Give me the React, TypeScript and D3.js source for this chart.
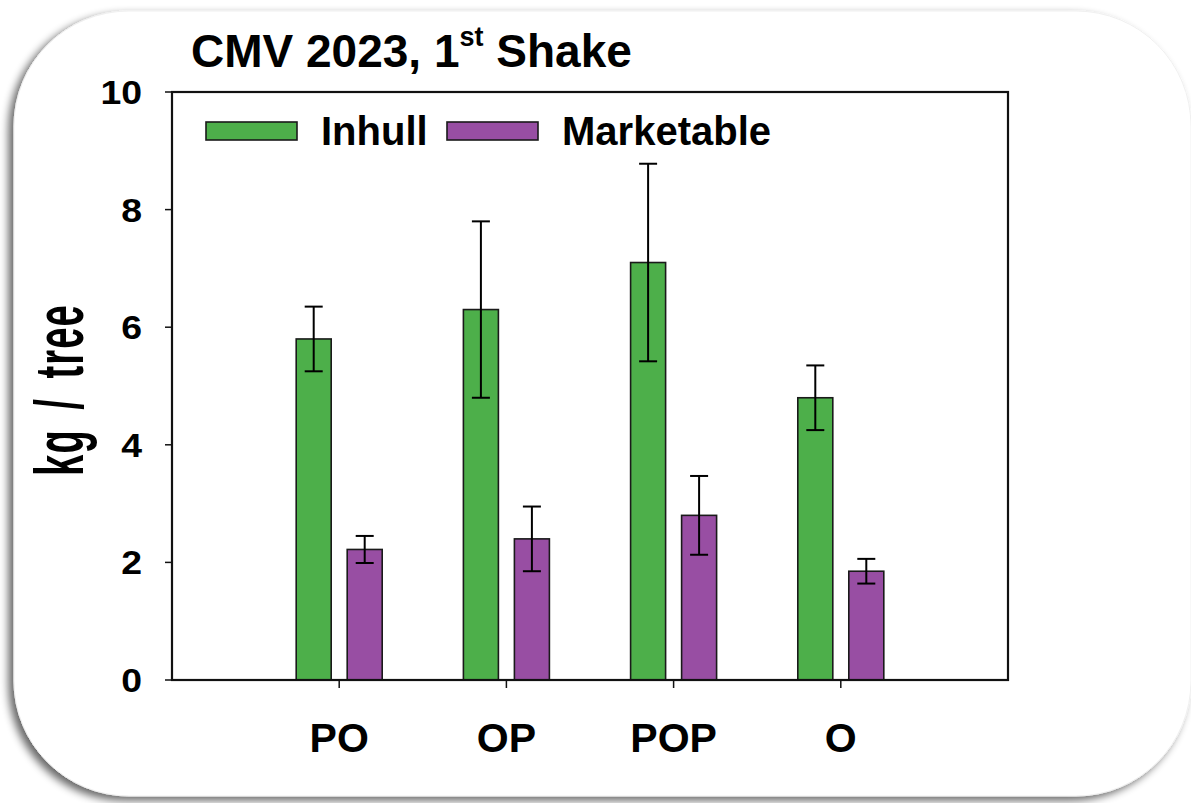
import React from "react";
import * as d3 from "d3";

const categories = ["PO", "OP", "POP", "O"];
const seriesNames = ["Inhull", "Marketable"];
const inhull = [5.8, 6.3, 7.1, 4.8];
const inhullErr = [0.55, 1.5, 1.68, 0.55];
const marketable = [2.22, 2.4, 2.8, 1.85];
const marketableErr = [0.23, 0.55, 0.67, 0.21];
const yTicks = [0, 2, 4, 6, 8, 10];
const colors = ["#4DAF4A", "#984EA3"];

const FONT = "'Liberation Sans', Arial, sans-serif";

export default function App() {
  const W = 1191, H = 803;
  const left = 172, right = 1008, top = 92, bottom = 680;
  const x = d3.scaleLinear().domain([0, categories.length + 1]).range([left, right]);
  const y = d3.scaleLinear().domain([0, 10]).range([bottom, top]);
  const barW = 35;
  const offsets = [-25.5, 25.5];
  const series = [
    { values: inhull, errs: inhullErr },
    { values: marketable, errs: marketableErr },
  ];
  const capW = 18;

  return (
    <svg width={W} height={H} style={{ position: "absolute", left: 0, top: 0, background: "#fff" }}>
      <defs>
        <filter id="sh" x="-10%" y="-10%" width="120%" height="120%">
          <feGaussianBlur in="SourceAlpha" stdDeviation="4" />
          <feOffset dx="-5" dy="4" result="ob" />
          <feComponentTransfer>
            <feFuncA type="linear" slope="0.6" />
          </feComponentTransfer>
          <feMerge>
            <feMergeNode />
            <feMergeNode in="SourceGraphic" />
          </feMerge>
        </filter>
      </defs>
      <rect x={14} y={11} width={1177} height={785} rx={115} ry={115} fill="#fff" stroke="#f0f0f0" strokeWidth={1} filter="url(#sh)" />

      {/* title */}
      <text x={191} y={67} fontFamily={FONT} fontWeight="bold" fontSize={46} fill="#000">
        CMV 2023, 1
        <tspan fontSize={27} dy={-21}>st</tspan>
        <tspan fontSize={46} dy={21}> Shake</tspan>
      </text>

      {/* bars */}
      {series.map((s, si) =>
        s.values.map((v, i) => {
          const cx = x(i + 1) + offsets[si];
          return (
            <g key={`${si}-${i}`}>
              <rect x={cx - barW / 2} y={y(v)} width={barW} height={y(0) - y(v)} fill={colors[si]} stroke="#1a1a1a" strokeWidth={1.6} />
              <line x1={cx} x2={cx} y1={y(v + s.errs[i])} y2={y(v - s.errs[i])} stroke="#000" strokeWidth={2} />
              <line x1={cx - capW / 2} x2={cx + capW / 2} y1={y(v + s.errs[i])} y2={y(v + s.errs[i])} stroke="#000" strokeWidth={2} />
              <line x1={cx - capW / 2} x2={cx + capW / 2} y1={y(v - s.errs[i])} y2={y(v - s.errs[i])} stroke="#000" strokeWidth={2} />
            </g>
          );
        })
      )}

      {/* frame */}
      <rect x={left} y={top} width={right - left} height={bottom - top} fill="none" stroke="#111" strokeWidth={2.2} />

      {/* y ticks */}
      {yTicks.map((t) => (
        <g key={t}>
          <line x1={left - 7} x2={left} y1={y(t)} y2={y(t)} stroke="#111" strokeWidth={1.5} />
          <text
            transform={`translate(142,${y(t) + 12}) scale(1.1,1)`}
            textAnchor="end"
            fontFamily={FONT}
            fontWeight="bold"
            fontSize={34}
            fill="#000"
          >
            {t}
          </text>
        </g>
      ))}

      {/* x ticks */}
      {categories.map((c, i) => (
        <g key={c}>
          <line x1={x(i + 1)} x2={x(i + 1)} y1={bottom} y2={bottom + 8} stroke="#111" strokeWidth={1.5} />
          <text x={x(i + 1)} y={752} textAnchor="middle" fontFamily={FONT} fontWeight="bold" fontSize={41} fill="#000">
            {c}
          </text>
        </g>
      ))}

      {/* y label */}
      <text
        transform="translate(83,390) rotate(-90) scale(0.56,1)"
        textAnchor="middle"
        fontFamily={FONT}
        fontWeight="bold"
        fontSize={68}
        wordSpacing={14}
        letterSpacing={2}
        fill="#000"
      >
        kg / tree
      </text>

      {/* legend */}
      {seriesNames.map((n, i) => {
        const lx = [206, 447][i];
        const tx = [321, 562][i];
        return (
          <g key={n}>
            <rect x={lx} y={122} width={91} height={18} fill={colors[i]} stroke="#1a1a1a" strokeWidth={1.6} />
            <text x={tx} y={145} fontFamily={FONT} fontWeight="bold" fontSize={40} fill="#000">
              {n}
            </text>
          </g>
        );
      })}
    </svg>
  );
}
